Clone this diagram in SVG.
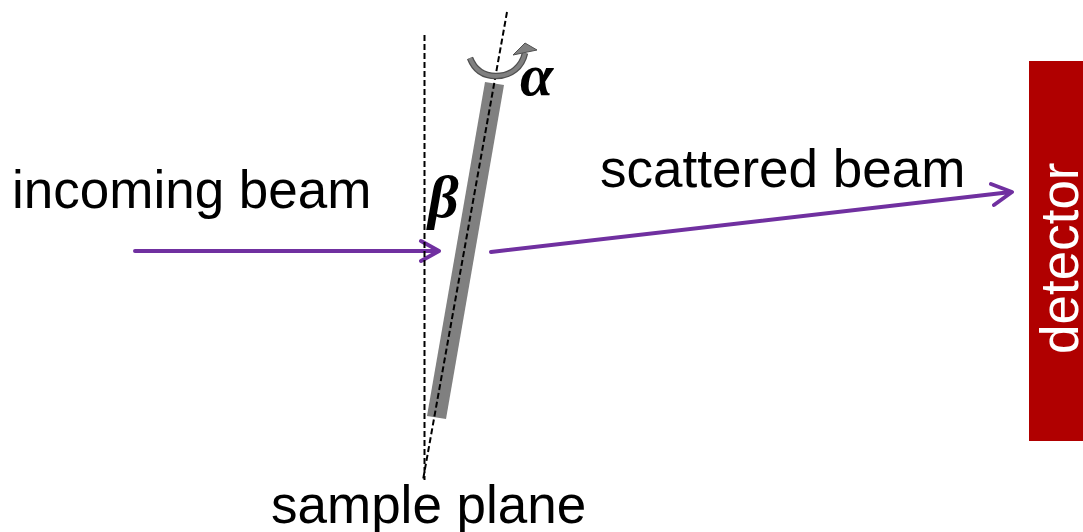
<svg xmlns="http://www.w3.org/2000/svg" width="1083" height="532" viewBox="0 0 1083 532">
<style>
text{font-family:"Liberation Sans",Arial,sans-serif;font-size:53px;fill:#000}
text.greek{font-family:"Liberation Serif",serif;font-style:italic;font-weight:bold;font-size:60px}
.dash{fill:none;stroke:#000;stroke-width:2;stroke-dasharray:6 3}
.beam{fill:none;stroke:#7030a0;stroke-width:4;stroke-linecap:round;stroke-linejoin:round}
</style>
<rect width="1083" height="532" fill="#fff"/>
<g id="sample"><polygon points="485,82 504,85 446,419 427,416" fill="#808080"/></g>
<g id="connectors">
<path class="beam" d="M135 251H439M421 241L439 251L421 261"/>
<path class="beam" d="M491 252L1011 192M991 184L1012 192L994 205"/>
<path class="dash" d="M424.500 35V480"/>
<path class="dash" d="M507 12L423 480"/>
</g>
<g id="rotation">
<path d="M470 58C475 71 485 76 496 76C511 76 522 67 525 53" fill="none" stroke="#505050" stroke-width="6.500"/>
<path d="M470 58C475 71 485 76 496 76C511 76 522 67 525 53" fill="none" stroke="#808080" stroke-width="4"/>
<polygon points="525,43 537,50 513,55" fill="#808080" stroke="#505050"/>
</g>
<g id="incoming-beam"><text x="12" y="208">incoming beam</text></g>
<g id="scattered-beam"><text x="600" y="187">scattered beam</text></g>
<g id="sample-plane"><text x="271" y="523">sample plane</text></g>
<g id="alpha"><text class="greek" x="520" y="95">α</text></g>
<g id="beta"><text class="greek" x="428" y="217">β</text></g>
<g id="detector"><rect x="1029" y="61" width="54" height="380" fill="#b00000"/><text transform="translate(1078 354) rotate(-90)" style="fill:#fff">detector</text></g>
</svg>
